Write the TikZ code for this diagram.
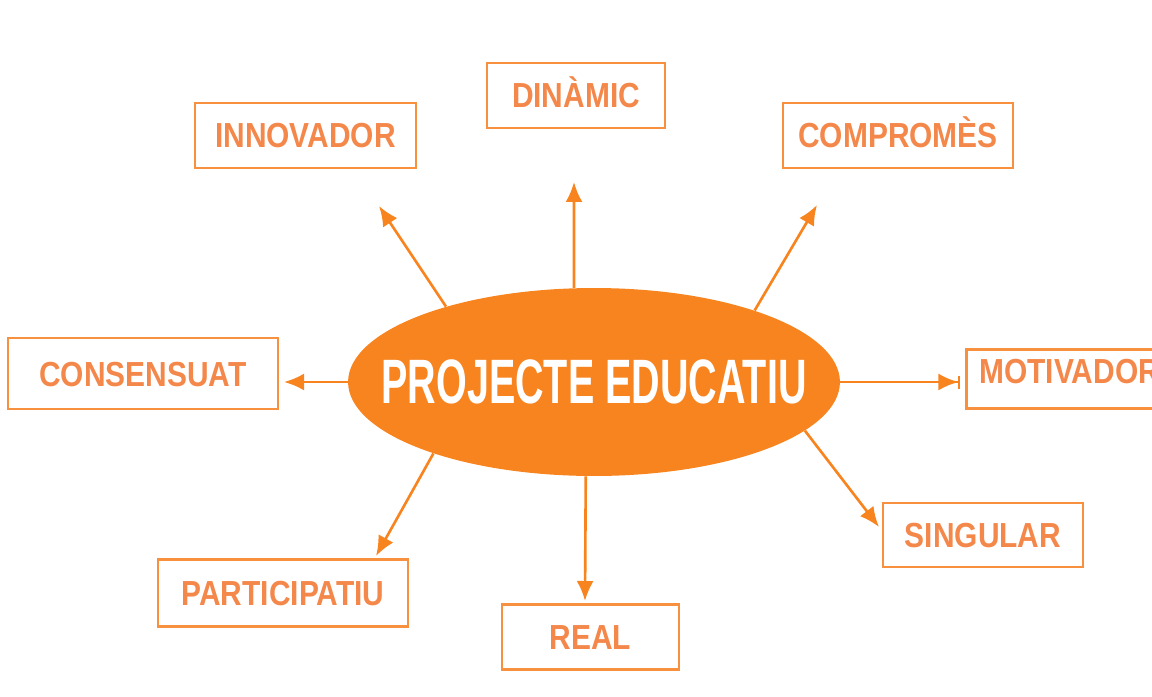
\documentclass[tikz,border=0pt]{standalone}
\usepackage{fontspec}
\setmainfont{Liberation Sans}
\newfontfamily\boxfont[FakeStretch=0.86]{Liberation Sans}
\newfontfamily\titlefont[FakeStretch=0.63]{Liberation Sans}
\usetikzlibrary{arrows.meta,shapes.geometric}
\definecolor{pjorange}{HTML}{F8841F}
\definecolor{pjline}{HTML}{F7913F}
\definecolor{pjtext}{HTML}{F4874A}

\begin{document}
\begin{tikzpicture}[x=0.02cm,y=-0.02cm,
  mainnode/.style={ellipse,fill=pjorange,minimum width=9.84cm,minimum height=3.76cm,inner sep=0pt,
    text=white,font=\titlefont\bfseries\fontsize{35.7}{40}\selectfont},
  wordbox/.style={draw=pjline,line width=1.6pt,text=pjtext,inner sep=0pt,text height=0.5cm,text depth=0pt,
    minimum height=1.3cm,font=\boxfont\bfseries\fontsize{19.8}{22}\selectfont},
  spoke/.style={draw=pjorange,line width=1.5pt,-{Latex[length=0.4cm,width=0.34cm]}}]
\useasboundingbox (0,0) rectangle (1152,696);
\clip (0,0) rectangle (1152,696);
\node[mainnode] (pe) at (594,382) {\makebox[0pt]{PROJECTE EDUCATIU}};
\node[wordbox,minimum width=4.42cm] (inn) at (305.5,135.5) {INNOVADOR};
\node[wordbox,minimum width=3.56cm] (din) at (576,95.5) {DINÀMIC};
\node[wordbox,minimum width=4.6cm] (comp) at (898,135.5) {COMPROMÈS};
\node[wordbox,minimum width=5.4cm,minimum height=1.42cm] (cons) at (143,373.5) {CONSENSUAT};
\node[wordbox,anchor=north west,text width=4.2cm,align=left,inner xsep=0.26cm,inner ysep=0.18cm,
  text depth=0.32cm,minimum height=0pt] (mot) at (965,348) {MOTIVADOR};
\node[wordbox,minimum width=4cm,minimum height=1.28cm] (sing) at (983,535) {SINGULAR};
\node[wordbox,minimum width=5cm,minimum height=1.34cm] (part) at (283,593) {PARTICIPATIU};
\node[wordbox,minimum width=3.54cm] (real) at (590.5,637) {REAL};
\coordinate (tInn) at (379,206);
\coordinate (tDin) at (574,182);
\coordinate (tComp) at (817,205);
\coordinate (tCons) at (284,382);
\coordinate (tMot) at (962,382);
\coordinate (tSing) at (879,527);
\coordinate (tPart) at (376,556);
\coordinate (tReal) at (585,601);
\draw[spoke] (pe.153.4) -- (tInn);
\draw[spoke] (pe.102) -- (tDin);
\draw[spoke] (pe.24.5) -- (tComp);
\draw[spoke] (pe.west) -- (tCons);
\draw[spoke,-{Latex[length=0.4cm,width=0.34cm] Bar[width=0.26cm,line width=0.6pt,sep=0.05cm]}] (pe.east) -- (tMot);
\draw[spoke] (pe.347.3) -- (tSing);
\draw[spoke] (pe.204.8) -- (tPart);
\draw[spoke] (pe.265) -- (tReal);
\end{tikzpicture}
\end{document}
